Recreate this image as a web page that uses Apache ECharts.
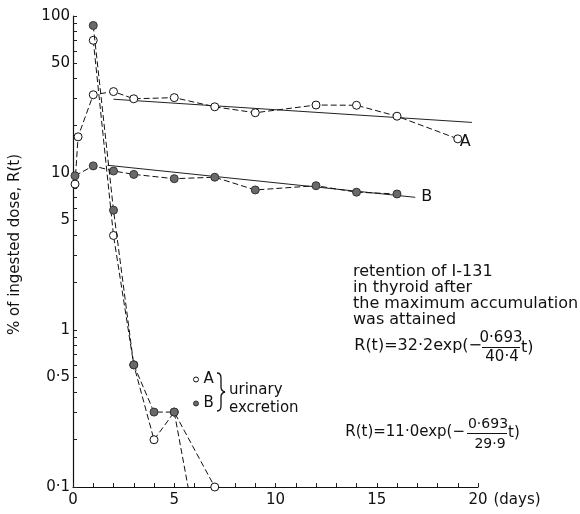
<!DOCTYPE html>
<html><head><meta charset="utf-8">
<script src="https://cdn.jsdelivr.net/npm/echarts@6/dist/echarts.min.js"></script>
<style>html,body{margin:0;padding:0;background:#fff}#c{width:580px;height:514px}</style>
</head><body><div id="c"></div>
<script>
// ---- data ----
const thyroidDaysA = [0.1, 0.25, 1, 2, 3, 5, 7, 9, 12, 14, 16, 19];
const thyroidA     = [8.5, 17, 31.5, 33, 29.7, 30.2, 26.4, 24.2, 27.1, 27, 23, 16.5];
const thyroidDaysB = [0.1, 1, 2, 3, 5, 7, 9, 12, 14, 16];
const thyroidB     = [9.6, 11.1, 10.3, 9.8, 9.2, 9.4, 7.8, 8.3, 7.55, 7.35];
const urineDaysA   = [1, 2, 3, 4, 5, 7];
const urineA       = [70, 4.0, 0.6, 0.2, 0.3, 0.1];
const urineDaysB   = [1, 2, 3, 4, 5, 6];
const urineB       = [87, 5.8, 0.6, 0.3, 0.3, 0.06];
const fitDaysA     = [2, 19.7];
const fitA         = [29.5, 21];
const fitDaysB     = [1.7, 16.9];
const fitB         = [11.2, 7.0];
const yLabelValues = [0.1, 0.5, 1, 5, 10, 50, 100];
const yTickValues  = [0.1, 0.2, 0.3, 0.4, 0.5, 0.6, 0.7, 0.8, 0.9,
                      1, 2, 3, 4, 5, 6, 7, 8, 9,
                      10, 20, 30, 40, 50, 60, 70, 80, 90, 100];
const xLabelValues = [0, 5, 10, 15, 20];
const xTickValues  = [0, 1, 2, 3, 4, 5, 6, 7, 8, 9, 10, 11, 12, 13, 14, 15, 16, 17, 18, 19, 20];

const pairs = (xs, ys) => xs.map((x, i) => [x, ys[i]]);
const FONT = 'DejaVu Sans';
const openSym = { color: '#fff', borderColor: '#111', borderWidth: 1 };
const fillSym = { color: '#6a6a6a', borderColor: '#333', borderWidth: 1 };
const dashed = { color: '#111', width: 1, type: [6, 3] };
const braceStyle = { stroke: '#111', lineWidth: 1.3, fill: null };

const chart = echarts.init(document.getElementById('c'), null, { renderer: 'canvas' });
chart.setOption({
  animation: false,
  backgroundColor: '#fff',
  textStyle: { fontFamily: FONT, color: '#111' },
  grid: { left: 72, right: 102, top: 16, bottom: 27 },
  xAxis: {
    type: 'value', min: 0, max: 20, interval: 5,
    name: '(days)', nameLocation: 'end', nameGap: 14,
    nameTextStyle: { fontFamily: FONT, fontSize: 15, color: '#111', verticalAlign: 'top', padding: [6, 0, 0, 0] },
    axisLine: { lineStyle: { color: '#111', width: 1.2 } },
    axisTick: { show: true, inside: true, length: 4, lineStyle: { color: '#222', width: 1 }, customValues: xTickValues },
    axisLabel: { fontFamily: FONT, fontSize: 15, color: '#111', margin: 6, customValues: xLabelValues },
    splitLine: { show: false }
  },
  yAxis: {
    type: 'log', logBase: 10, min: 0.1, max: 100,
    name: '% of ingested dose, R(t)', nameLocation: 'middle', nameGap: 50,
    nameTextStyle: { fontFamily: FONT, fontSize: 15, color: '#111', padding: [0, 0, 0, 14] },
    axisLine: { show: true, lineStyle: { color: '#111', width: 1.2 } },
    axisTick: { show: true, inside: true, length: 4, lineStyle: { color: '#222', width: 1 }, customValues: yTickValues },
    axisLabel: {
      fontFamily: FONT, fontSize: 15, color: '#111', margin: 3, customValues: yLabelValues,
      formatter: v => String(+v.toPrecision(3)).replace('.', '·')
    },
    splitLine: { show: false }
  },
  legend: {
    orient: 'vertical', left: 193, top: 372, padding: 0, itemGap: 9,
    itemWidth: 5, itemHeight: 5, itemTextGap: 3, selectedMode: false,
    textStyle: { fontFamily: FONT, fontSize: 15, color: '#111' },
    data: [
      { name: 'A', icon: 'circle', itemStyle: openSym },
      { name: 'B', icon: 'circle', itemStyle: fillSym }
    ]
  },
  series: [
    { name: 'fit A', type: 'line', data: pairs(fitDaysA, fitA), showSymbol: false, symbol: 'none',
      lineStyle: { color: '#222', width: 1 }, z: 1 },
    { name: 'fit B', type: 'line', data: pairs(fitDaysB, fitB), showSymbol: false, symbol: 'none',
      lineStyle: { color: '#222', width: 1 }, z: 1,
      endLabel: { show: true, formatter: 'B', fontFamily: FONT, fontSize: 16, color: '#111', distance: 6 } },
    { name: 'thyroid A', type: 'line', data: pairs(thyroidDaysA, thyroidA), symbol: 'circle', symbolSize: 8,
      itemStyle: openSym, lineStyle: dashed, z: 3,
      endLabel: { show: true, formatter: 'A', fontFamily: FONT, fontSize: 16, color: '#111', distance: 2, offset: [0, 3] } },
    { name: 'thyroid B', type: 'line', data: pairs(thyroidDaysB, thyroidB), symbol: 'circle', symbolSize: 8,
      itemStyle: fillSym, lineStyle: dashed, z: 3 },
    { name: 'A', type: 'line', data: pairs(urineDaysA, urineA), symbol: 'circle', symbolSize: 8,
      itemStyle: openSym, lineStyle: dashed, z: 3, clip: true },
    { name: 'B', type: 'line', data: pairs(urineDaysB, urineB), symbol: 'circle', symbolSize: 8,
      itemStyle: fillSym, lineStyle: dashed, z: 4, clip: true }
  ],
  graphic: [
    { type: 'bezierCurve', shape: { x1: 217, y1: 373, cpx1: 221, cpy1: 373, x2: 221, y2: 378 }, style: braceStyle },
    { type: 'line', shape: { x1: 221, y1: 378, x2: 221, y2: 387 }, style: braceStyle },
    { type: 'bezierCurve', shape: { x1: 221, y1: 387, cpx1: 221, cpy1: 391, x2: 225, y2: 392 }, style: braceStyle },
    { type: 'bezierCurve', shape: { x1: 225, y1: 392, cpx1: 221, cpy1: 393, x2: 221, y2: 397 }, style: braceStyle },
    { type: 'line', shape: { x1: 221, y1: 397, x2: 221, y2: 406 }, style: braceStyle },
    { type: 'bezierCurve', shape: { x1: 221, y1: 406, cpx1: 221, cpy1: 411, x2: 217, y2: 411 }, style: braceStyle },
    { type: 'text', left: 229, top: 383, style: { text: 'urinary', font: '15px "DejaVu Sans"', fill: '#111' } },
    { type: 'text', left: 229, top: 401, style: { text: 'excretion', font: '15px "DejaVu Sans"', fill: '#111' } },

    { type: 'text', left: 353, top: 264, style: { text: 'retention of I-131', font: '16px "DejaVu Sans"', fill: '#111' } },
    { type: 'text', left: 353, top: 280, style: { text: 'in thyroid after', font: '16px "DejaVu Sans"', fill: '#111' } },
    { type: 'text', left: 353, top: 296, style: { text: 'the maximum accumulation', font: '16px "DejaVu Sans"', fill: '#111' } },
    { type: 'text', left: 353, top: 312, style: { text: 'was attained', font: '16px "DejaVu Sans"', fill: '#111' } },

    { type: 'text', x: 482, y: 346, style: { text: 'R(t)=32·2exp(−', font: '16px "DejaVu Sans"', fill: '#111', align: 'right', verticalAlign: 'middle' } },
    { type: 'text', x: 501, y: 338, style: { text: '0·693', font: '15px "DejaVu Sans"', fill: '#111', align: 'center', verticalAlign: 'middle' } },
    { type: 'line', shape: { x1: 482, y1: 347.5, x2: 520, y2: 347.5 }, style: { stroke: '#111', lineWidth: 1 } },
    { type: 'text', x: 502, y: 357, style: { text: '40·4', font: '15px "DejaVu Sans"', fill: '#111', align: 'center', verticalAlign: 'middle' } },
    { type: 'text', x: 521, y: 348, style: { text: 't)', font: '16px "DejaVu Sans"', fill: '#111', align: 'left', verticalAlign: 'middle' } },

    { type: 'text', x: 465, y: 432, style: { text: 'R(t)=11·0exp(−', font: '15px "DejaVu Sans"', fill: '#111', align: 'right', verticalAlign: 'middle' } },
    { type: 'text', x: 488, y: 424, style: { text: '0·693', font: '14px "DejaVu Sans"', fill: '#111', align: 'center', verticalAlign: 'middle' } },
    { type: 'line', shape: { x1: 467, y1: 433.5, x2: 507, y2: 433.5 }, style: { stroke: '#111', lineWidth: 1 } },
    { type: 'text', x: 490, y: 444, style: { text: '29·9', font: '14px "DejaVu Sans"', fill: '#111', align: 'center', verticalAlign: 'middle' } },
    { type: 'text', x: 508, y: 433, style: { text: 't)', font: '15px "DejaVu Sans"', fill: '#111', align: 'left', verticalAlign: 'middle' } }
  ]
});
</script></body></html>
